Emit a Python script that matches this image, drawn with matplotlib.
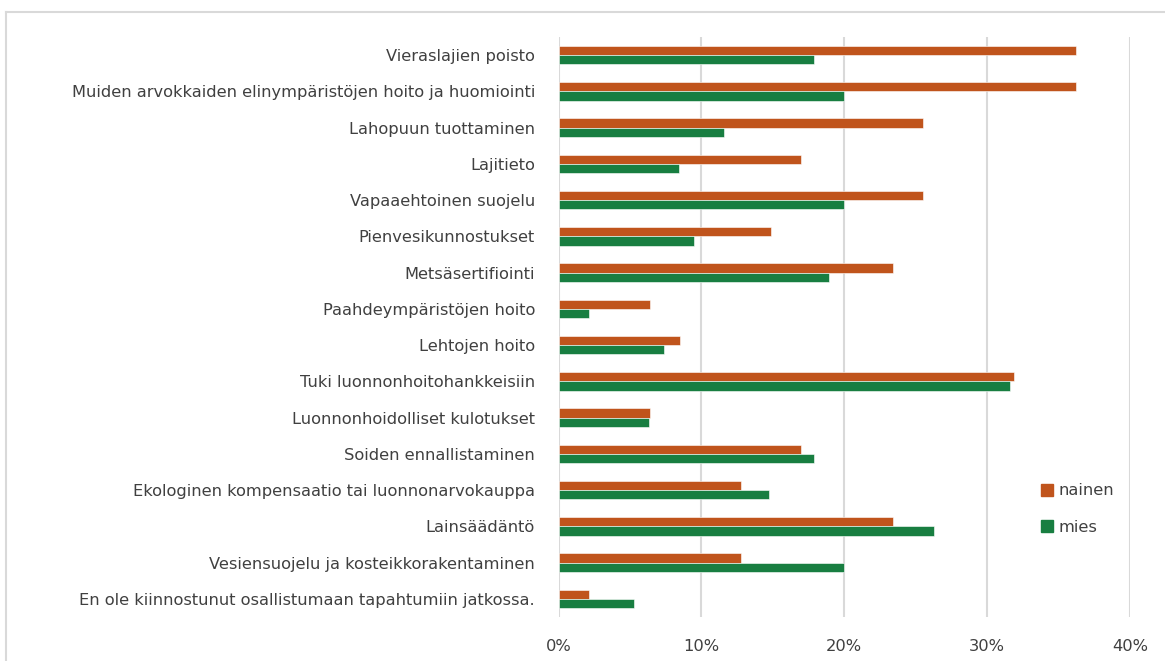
import matplotlib
matplotlib.use("Agg")
import matplotlib.pyplot as plt
from matplotlib.lines import Line2D
from matplotlib.ticker import FuncFormatter

categories = [
    "Vieraslajien poisto",
    "Muiden arvokkaiden elinympäristöjen hoito ja huomiointi",
    "Lahopuun tuottaminen",
    "Lajitieto",
    "Vapaaehtoinen suojelu",
    "Pienvesikunnostukset",
    "Metsäsertifiointi",
    "Paahdeympäristöjen hoito",
    "Lehtojen hoito",
    "Tuki luonnonhoitohankkeisiin",
    "Luonnonhoidolliset kulotukset",
    "Soiden ennallistaminen",
    "Ekologinen kompensaatio tai luonnonarvokauppa",
    "Lainsäädäntö",
    "Vesiensuojelu ja kosteikkorakentaminen",
    "En ole kiinnostunut osallistumaan tapahtumiin jatkossa.",
]
nainen = [36.2, 36.2, 25.5, 17.0, 25.5, 14.9, 23.4, 6.4, 8.5, 31.9, 6.4, 17.0, 12.8, 23.4, 12.8, 2.1]
mies = [17.9, 20.0, 11.6, 8.4, 20.0, 9.5, 18.9, 2.1, 7.4, 31.6, 6.3, 17.9, 14.7, 26.3, 20.0, 5.3]
series_names = ["nainen", "mies"]
xticks = [0, 10, 20, 30, 40]

c_orange = "#C0541C"
c_green = "#187E41"
text_c = "#404040"
fs = 11.7

fig = plt.figure(figsize=(11.65, 6.61), dpi=100)
ax = fig.add_axes([558.5 / 1165, 1 - 617 / 661, (1130 - 558.5) / 1165, (617 - 37) / 661])

h = 0.257
y = list(range(len(categories)))
ax.barh([v - h / 2 for v in y], nainen, height=h, color=c_orange, label=series_names[0],
        edgecolor="white", linewidth=0.4, zorder=3)
ax.barh([v + h / 2 for v in y], mies, height=h, color=c_green, label=series_names[1],
        edgecolor="white", linewidth=0.4, zorder=3)

ax.set_ylim(len(categories) - 0.5, -0.5)
ax.set_xlim(0, 40)
ax.set_yticks(y)
ax.set_yticklabels(categories, fontsize=fs, color=text_c)
ax.set_xticks(xticks)
ax.xaxis.set_major_formatter(FuncFormatter(lambda v, p: f"{int(v)}%"))
ax.tick_params(axis="y", length=0, pad=17)
ax.tick_params(axis="x", length=0, pad=16, labelsize=fs, labelcolor=text_c)
for s in ax.spines.values():
    s.set_visible(False)
ax.grid(axis="x", color="#d9d9d9", linewidth=1.5, zorder=0)
ax.set_axisbelow(True)

handles = [Line2D([], [], marker="s", linestyle="none", markersize=8, color=c_orange),
           Line2D([], [], marker="s", linestyle="none", markersize=8, color=c_green)]
fig.legend(handles, series_names, loc="center left", bbox_to_anchor=(1026 / 1165, 1 - 509 / 661),
           frameon=False, fontsize=fs, labelcolor=text_c, handlelength=0.8, handletextpad=0.3,
           labelspacing=1.3)

# outer frame (top and left visible)
fig.add_artist(Line2D([6 / 1165, 1.0], [1 - 12 / 661, 1 - 12 / 661], transform=fig.transFigure,
                      color="#d9d9d9", linewidth=1.5))
fig.add_artist(Line2D([6 / 1165, 6 / 1165], [0, 1 - 12 / 661], transform=fig.transFigure,
                      color="#d9d9d9", linewidth=1.5))

fig.savefig("out.png", dpi=100, facecolor="white")
